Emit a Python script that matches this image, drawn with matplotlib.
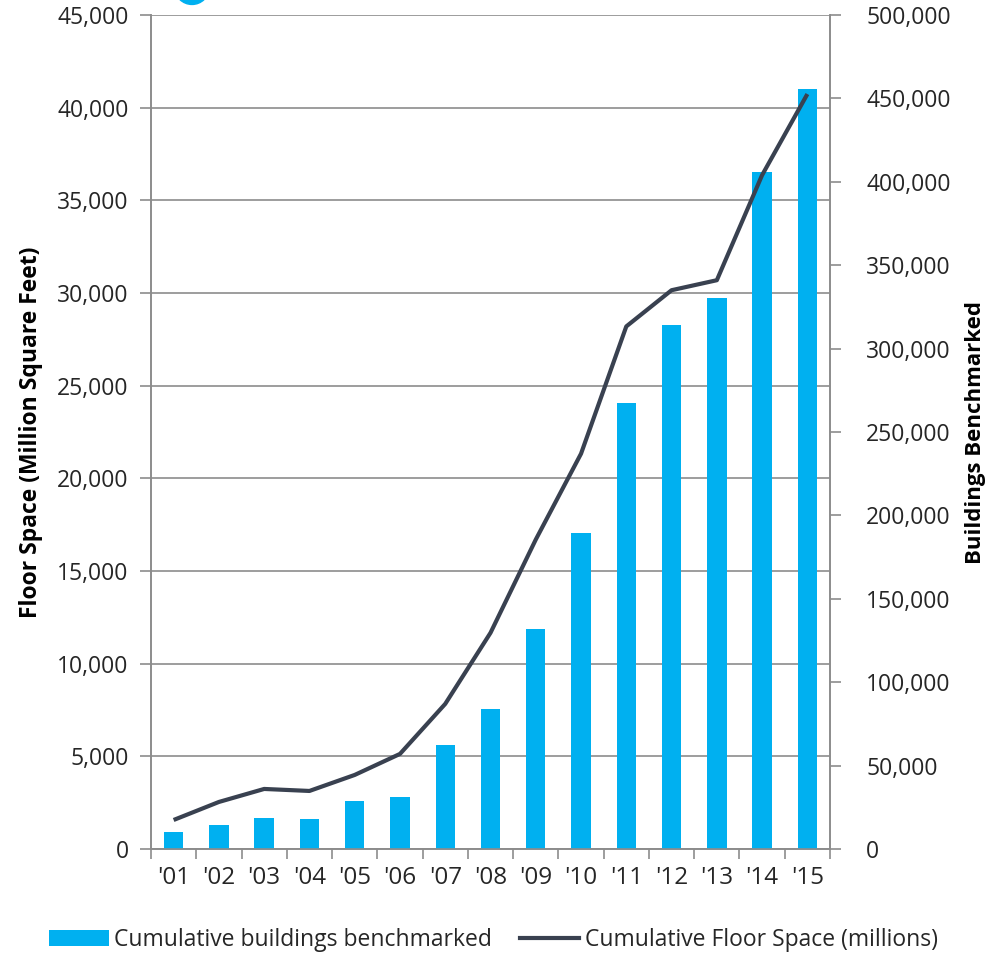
import matplotlib.pyplot as plt
from matplotlib.patches import Circle, Patch
from matplotlib.lines import Line2D
from matplotlib.ticker import FuncFormatter

plt.rcParams['font.family'] = ['Open Sans', 'DejaVu Sans']

years = ["'01", "'02", "'03", "'04", "'05", "'06", "'07", "'08",
         "'09", "'10", "'11", "'12", "'13", "'14", "'15"]
buildings = [920, 1300, 1670, 1620, 2590, 2810, 5620, 7560,
             11890, 17070, 24040, 28250, 29710, 36520, 41000]
floor_space = [17400, 28200, 36000, 34800, 44400, 57000, 87000, 129600,
               185500, 237000, 313300, 335000, 341000, 404000, 452600]

bar_color = '#00B0F0'
line_color = '#394150'
grid_color = '#8c8c8c'
text_color = '#262626'

W, H = 987, 955
fig = plt.figure(figsize=(W / 100, H / 100), dpi=100)
ax = fig.add_axes([151 / W, 1 - 849 / H, (830 - 151) / W, (849 - 15) / H])
ax2 = ax.twinx()

x = list(range(len(years)))
ax.bar(x, buildings, width=0.43, color=bar_color, zorder=3)
ax2.plot(x, floor_space, color=line_color, lw=3, zorder=4, solid_capstyle='butt')

ax.set_xlim(-0.5, len(years) - 0.5)
ax.set_ylim(0, 45000)
ax2.set_ylim(0, 500000)
ax.set_yticks(range(0, 45001, 5000))
ax2.set_yticks(range(0, 500001, 50000))
fmt = FuncFormatter(lambda v, p: f'{int(v):,}')
ax.yaxis.set_major_formatter(fmt)
ax2.yaxis.set_major_formatter(fmt)

ax.yaxis.grid(True, color=grid_color, lw=1.2, zorder=0)
ax.set_axisbelow(True)

ax.set_xticks(x)
ax.set_xticklabels(years)
ax.set_xticks([i - 0.5 for i in range(len(years) + 1)], minor=True)
ax.tick_params(axis='x', which='major', length=0, pad=12, labelsize=17.5, colors=text_color)
ax.tick_params(axis='x', which='minor', length=7, width=1.2, color=grid_color, direction='out')
ax.tick_params(axis='y', length=8, width=1.2, color=grid_color, labelsize=16.5, pad=8, labelcolor=text_color)
ax2.tick_params(axis='y', length=8, width=1.2, color=grid_color, labelsize=16.5, pad=18, labelcolor=text_color)

for a in (ax, ax2):
    a.spines['top'].set_visible(False)
    for s in ('left', 'right', 'bottom'):
        a.spines[s].set_color(grid_color)
        a.spines[s].set_linewidth(1.2)

ax.set_ylabel('Floor Space (Million Square Feet)', fontsize=16.5, fontweight='bold',
              labelpad=10, color='black')
ax2.set_ylabel('Buildings Benchmarked', fontsize=16, fontweight='bold',
               labelpad=10, color='black')

handles = [Patch(facecolor=bar_color, label='Cumulative buildings benchmarked'),
           Line2D([], [], color=line_color, lw=3, label='Cumulative Floor Space (millions)')]
fig.legend(handles=handles, loc='center', bbox_to_anchor=(0.5, 1 - 940 / H), ncol=2,
           frameon=False, fontsize=16.5, handlelength=2.6, handletextpad=0.25,
           columnspacing=1.2, labelcolor=text_color)

# partial logo circle at the top edge
fig.patches.append(Circle((192 / W, 1 + 12 / H), 17 / W, transform=fig.transFigure,
                          color=bar_color, zorder=10))

fig.savefig('out.png', dpi=100)
